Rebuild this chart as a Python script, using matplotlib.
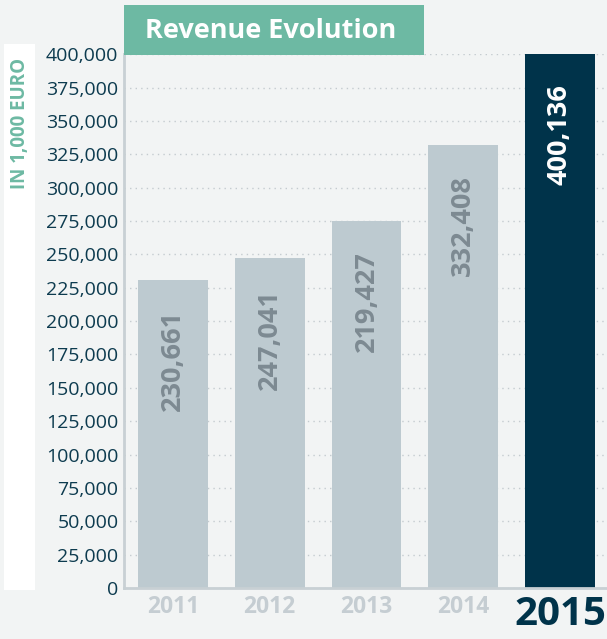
import numpy as np
import matplotlib.pyplot as plt
from matplotlib.patches import Rectangle

years = ['2011', '2012', '2013', '2014', '2015']
heights = [231000, 247000, 275000, 332000, 400136]
labels = ['230,661', '247,041', '219,427', '332,408', '400,136']
yticks = np.arange(0, 400001, 25000)

bg = '#f2f4f4'
grey_bar = '#bdcad0'
dark = '#00334a'
green = '#6db9a3'

plt.rcParams['font.family'] = ['Open Sans', 'DejaVu Sans']

fig = plt.figure(figsize=(6.07, 6.39), dpi=100, facecolor=bg)
ax = fig.add_axes([124/607, 1-588/639, 1-124/607, (588-54)/639])
ax.set_facecolor(bg)

x = np.arange(len(years))
cols = [grey_bar]*4 + [dark]
ax.bar(x, heights, width=0.72, color=cols, zorder=2)
ax.set_xlim(-0.506, 4.486)
ax.set_ylim(0, 400136)

ax.set_yticks(yticks)
ax.set_yticklabels(['{:,}'.format(v) for v in yticks], color='#0d3b4f', fontsize=14)
ax.yaxis.grid(True, linestyle=(0, (1, 3)), color='#c4cbcf', linewidth=1, zorder=0)
ax.tick_params(axis='y', length=0, pad=4)
ax.tick_params(axis='x', length=0, pad=5)
for s in ['top', 'right']:
    ax.spines[s].set_visible(False)
for s in ['left', 'bottom']:
    ax.spines[s].set_color('#c8d0d4')
    ax.spines[s].set_linewidth(2)

ax.set_xticks(x)
ax.set_xticklabels(years)
for i, t in enumerate(ax.get_xticklabels()):
    t.set_fontweight('bold')
    if i == 4:
        t.set_fontsize(29)
        t.set_color(dark)
    else:
        t.set_fontsize(16.5)
        t.set_color('#c5cdd2')

for i in range(len(years)):
    c = 'white' if i == 4 else '#7d8a92'
    ax.annotate(labels[i], (x[i], heights[i]), xytext=(0, -22), textcoords='offset points',
                rotation=90, ha='center', va='top', fontsize=19.5, fontweight='bold', color=c, zorder=3)

# left label strip
fig.patches.append(Rectangle((4/607, 1-590/639), 31/607, 546/639, transform=fig.transFigure,
                             facecolor='white', edgecolor='none'))
fig.text(20/607, 1-58/639, 'IN 1,000 EURO', rotation=90, ha='center', va='top',
         color=green, fontsize=13.5, fontweight='bold')

# title box
fig.patches.append(Rectangle((124/607, 1-55/639), 300/607, 50/639, transform=fig.transFigure,
                             facecolor=green, edgecolor='none', zorder=5))
fig.text(271/607, 1-31/639, 'Revenue Evolution', ha='center', va='center',
         color='white', fontsize=19.5, fontweight='bold', zorder=6)

fig.savefig('out.png', dpi=100, facecolor=bg)
